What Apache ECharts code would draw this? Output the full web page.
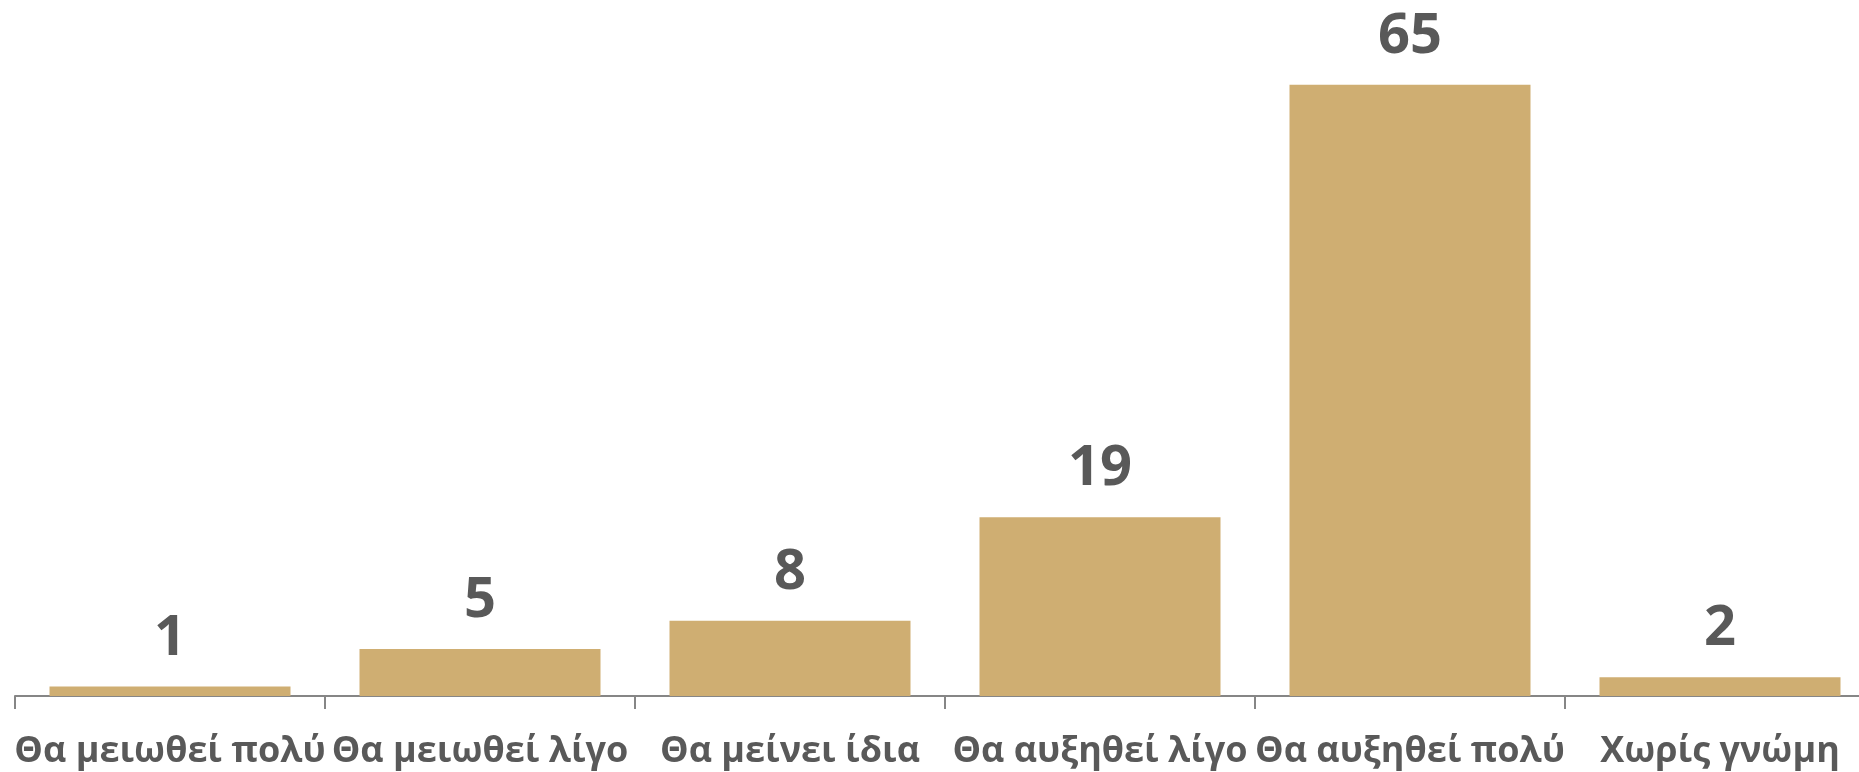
<!DOCTYPE html>
<html>
<head>
<meta charset="utf-8">
<script src="https://cdn.jsdelivr.net/npm/echarts@6/dist/echarts.min.js"></script>
<style>
    html, body { margin: 0; padding: 0; background: #fff; }
    #chart { width: 1859px; height: 772px; }
</style>
</head>
<body>
<div id="chart"></div>
<script>
// κατηγορίες και τιμές (%)
const categories = ['Θα μειωθεί πολύ', 'Θα μειωθεί λίγο', 'Θα μείνει ίδια', 'Θα αυξηθεί λίγο', 'Θα αυξηθεί πολύ', 'Χωρίς γνώμη']
const values = [1, 5, 8, 19, 65, 2]

const chartInstance = echarts.init(document.getElementById('chart'))

const option = {
    animation: false,
    grid: {
        left: 15,
        top: 0,
        width: 1860,
        bottom: 76,
        outerBoundsMode: 'none' // το τελευταίο τμήμα του άξονα κόβεται δεξιά
    },
    xAxis: {
        type: 'category',
        data: categories,
        axisLine: { lineStyle: { color: '#868686', width: 2 } },
        axisTick: { show: true, length: 13, lineStyle: { color: '#868686', width: 2 } },
        axisLabel: {
            interval: 0,
            margin: 38,
            color: '#595959',
            fontFamily: 'Open Sans',
            fontWeight: 'bold',
            fontSize: 36
        }
    },
    yAxis: {
        type: 'value',
        min: 0,
        max: 74,
        show: false,
        splitLine: { show: false }
    },
    series: [{
        type: 'bar',
        data: values,
        barWidth: 241,
        itemStyle: { color: '#CFAE72' },
        label: {
            show: true,
            position: 'top',
            distance: 20,
            color: '#595959',
            fontFamily: 'Open Sans',
            fontWeight: 'bold',
            fontSize: 56
        }
    }]
}
chartInstance.setOption(option)
</script>
</body>
</html>
